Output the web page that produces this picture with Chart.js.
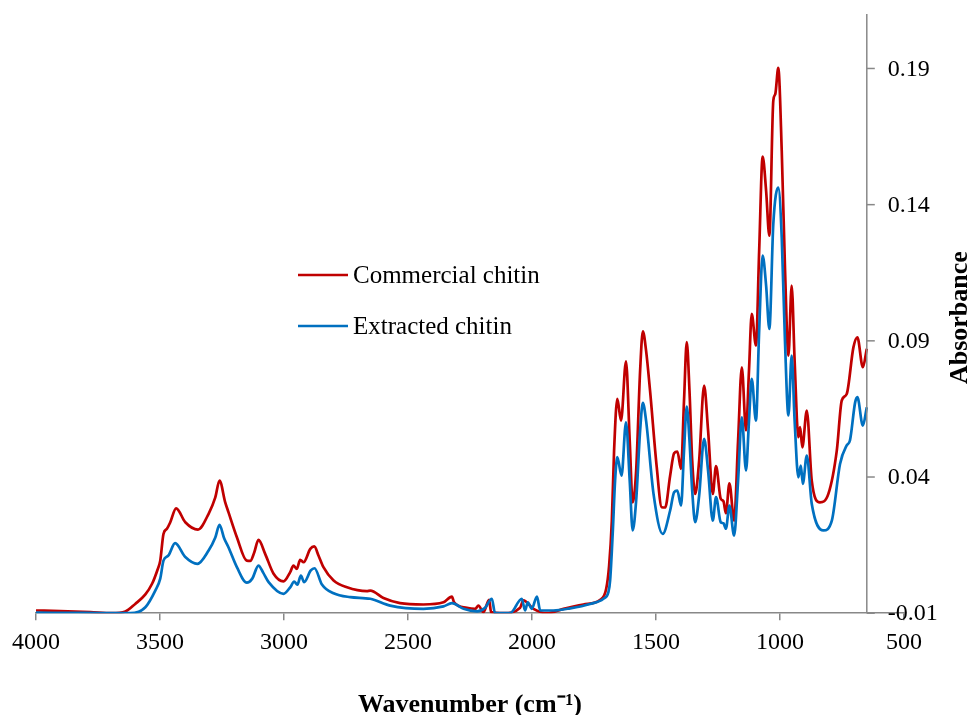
<!DOCTYPE html>
<html>
<head>
<meta charset="utf-8">
<script src="https://cdn.jsdelivr.net/npm/chart.js@4.4.1/dist/chart.umd.min.js"></script>
<style>
  body { margin: 0; background: #fff; }
  canvas { display: block; }
</style>
</head>
<body>
<canvas id="ftir-chart" width="973" height="715"></canvas>
<script>
const seriesNames = ["Commercial chitin", "Extracted chitin"];

// FTIR spectra: wavenumber (cm-1) and absorbance
const commercialWn = [4000, 3902, 3781, 3694, 3640, 3600, 3559, 3532, 3511, 3499, 3486, 3472, 3459, 3435, 3398, 3347, 3304, 3277, 3260, 3237, 3224, 3190, 3150, 3136, 3120, 3103, 3076, 3042, 3002, 2975, 2962, 2948, 2935, 2921, 2894, 2878, 2861, 2841, 2800, 2746, 2666, 2652, 2599, 2532, 2438, 2357, 2323, 2314, 2263, 2229, 2216, 2196, 2173, 2165, 2115, 2048, 2035, 1994, 1940, 1873, 1793, 1725, 1701, 1689, 1678, 1669, 1656, 1641, 1621, 1606, 1594, 1580, 1564, 1553, 1540, 1524, 1497, 1477, 1463, 1443, 1427, 1414, 1399, 1387, 1376, 1365, 1354, 1342, 1326, 1306, 1290, 1271, 1258, 1239, 1228, 1218, 1204, 1185, 1169, 1154, 1137, 1125, 1114, 1097, 1084, 1070, 1056, 1043, 1027, 1019, 1007, 993, 980, 966, 953, 941, 926, 919, 910, 892, 872, 839, 805, 771, 751, 731, 704, 688, 666, 650];
const commercialAbs = [-0.0090, -0.0092, -0.0096, -0.0100, -0.0094, -0.0066, -0.0031, 0.0008, 0.0057, 0.0093, 0.0191, 0.0210, 0.0233, 0.0285, 0.0234, 0.0207, 0.0265, 0.0325, 0.0387, 0.0307, 0.0271, 0.0179, 0.0093, 0.0092, 0.0123, 0.0169, 0.0118, 0.0045, 0.0017, 0.0051, 0.0075, 0.0063, 0.0096, 0.0087, 0.0136, 0.0145, 0.0112, 0.0069, 0.0020, -0.0005, -0.0019, -0.0017, -0.0044, -0.0063, -0.0068, -0.0060, -0.0039, -0.0060, -0.0080, -0.0084, -0.0072, -0.0096, -0.0051, -0.0096, -0.0100, -0.0080, -0.0053, -0.0084, -0.0100, -0.0084, -0.0068, -0.0051, -0.0011, 0.0075, 0.0240, 0.0497, 0.0687, 0.0607, 0.0825, 0.0534, 0.0307, 0.0424, 0.0791, 0.0935, 0.0864, 0.0717, 0.0436, 0.0289, 0.0288, 0.0405, 0.0487, 0.0493, 0.0430, 0.0681, 0.0895, 0.0717, 0.0460, 0.0338, 0.0460, 0.0736, 0.0571, 0.0338, 0.0440, 0.0320, 0.0311, 0.0267, 0.0377, 0.0240, 0.0534, 0.0803, 0.0571, 0.0791, 0.0999, 0.0883, 0.1231, 0.1576, 0.1451, 0.1286, 0.1782, 0.1806, 0.1902, 0.1598, 0.1170, 0.0846, 0.1103, 0.0827, 0.0546, 0.0583, 0.0509, 0.0644, 0.0387, 0.0307, 0.0338, 0.0497, 0.0681, 0.0705, 0.0876, 0.0913, 0.0803, 0.0871];

const extractedWn = [4000, 3800, 3620, 3559, 3519, 3499, 3486, 3466, 3439, 3398, 3349, 3304, 3277, 3260, 3241, 3224, 3190, 3150, 3128, 3103, 3084, 3062, 3002, 2975, 2959, 2946, 2932, 2919, 2892, 2877, 2847, 2800, 2733, 2652, 2572, 2438, 2357, 2323, 2276, 2222, 2189, 2162, 2149, 2088, 2041, 2028, 2017, 2001, 1980, 1967, 1914, 1846, 1766, 1712, 1692, 1685, 1674, 1665, 1656, 1639, 1621, 1606, 1594, 1580, 1564, 1553, 1540, 1510, 1473, 1443, 1427, 1414, 1399, 1387, 1376, 1365, 1354, 1342, 1326, 1306, 1290, 1271, 1258, 1239, 1228, 1218, 1204, 1185, 1169, 1154, 1137, 1125, 1114, 1097, 1084, 1070, 1056, 1043, 1027, 1007, 993, 980, 966, 953, 941, 926, 916, 908, 892, 872, 825, 791, 758, 731, 718, 697, 688, 666, 650];
const extractedAbs = [-0.0098, -0.0099, -0.0100, -0.0078, -0.0017, 0.0027, 0.0093, 0.0112, 0.0157, 0.0106, 0.0081, 0.0130, 0.0178, 0.0224, 0.0174, 0.0142, 0.0069, 0.0012, 0.0027, 0.0075, 0.0049, 0.0014, -0.0029, -0.0005, 0.0016, 0.0005, 0.0038, 0.0014, 0.0057, 0.0065, 0.0005, -0.0027, -0.0041, -0.0047, -0.0072, -0.0084, -0.0075, -0.0063, -0.0084, -0.0093, -0.0080, -0.0047, -0.0100, -0.0100, -0.0047, -0.0090, -0.0060, -0.0084, -0.0039, -0.0090, -0.0090, -0.0082, -0.0066, -0.0047, -0.0023, 0.0020, 0.0204, 0.0387, 0.0473, 0.0405, 0.0601, 0.0387, 0.0204, 0.0314, 0.0571, 0.0672, 0.0607, 0.0338, 0.0191, 0.0277, 0.0344, 0.0350, 0.0295, 0.0497, 0.0659, 0.0534, 0.0350, 0.0234, 0.0332, 0.0540, 0.0424, 0.0240, 0.0326, 0.0234, 0.0230, 0.0210, 0.0295, 0.0185, 0.0387, 0.0619, 0.0424, 0.0607, 0.0760, 0.0607, 0.0938, 0.1213, 0.1103, 0.0944, 0.1329, 0.1463, 0.1280, 0.0901, 0.0626, 0.0846, 0.0607, 0.0399, 0.0442, 0.0375, 0.0479, 0.0302, 0.0204, 0.0240, 0.0448, 0.0516, 0.0534, 0.0674, 0.0693, 0.0589, 0.0656];

const xTicks = [4000, 3500, 3000, 2500, 2000, 1500, 1000, 500];
const yTicks = [-0.01, 0.04, 0.09, 0.14, 0.19];
const yAxisAt = 650; // vertical axis crosses at the last recorded wavenumber

const toPoints = (xs, ys) => xs.map((x, i) => ({ x: x, y: ys[i] }));

Chart.defaults.font.family = "'Liberation Serif', 'Times New Roman', serif";
Chart.defaults.color = "#000";

const axisGray = "#888888";

// absorbance axis sits inside the wavenumber range, so it is drawn by hand
const absorbanceAxis = {
  id: "absorbanceAxis",
  afterDraw(chart) {
    const { ctx, chartArea, scales: { x, y } } = chart;
    const ax = x.getPixelForValue(yAxisAt);
    ctx.save();
    ctx.strokeStyle = axisGray;
    ctx.lineWidth = 1.5;
    ctx.beginPath();
    ctx.moveTo(ax, chartArea.top);
    ctx.lineTo(ax, chartArea.bottom);
    ctx.stroke();
    ctx.font = "24px 'Liberation Serif'";
    ctx.fillStyle = "#000";
    ctx.textAlign = "left";
    ctx.textBaseline = "middle";
    yTicks.forEach(v => {
      const py = y.getPixelForValue(v);
      ctx.beginPath();
      ctx.moveTo(ax, py);
      ctx.lineTo(ax + 8, py);
      ctx.stroke();
      ctx.fillText(v.toFixed(2), ax + 21, py + 1);
    });
    ctx.font = "bold 26px 'Liberation Serif'";
    ctx.translate(chart.width - 13, (chartArea.top + chartArea.bottom) / 2 + 4);
    ctx.rotate(-Math.PI / 2);
    ctx.textAlign = "center";
    ctx.fillText("Absorbance", 0, 0);
    ctx.restore();
  }
};

// legend floating in the empty middle of the plot
const floatingLegend = {
  id: "floatingLegend",
  afterDraw(chart) {
    const { ctx } = chart;
    ctx.save();
    ctx.font = "25px 'Liberation Serif'";
    ctx.textAlign = "left";
    ctx.textBaseline = "middle";
    chart.data.datasets.forEach((ds, i) => {
      const ly = 275 + i * 51;
      ctx.strokeStyle = ds.borderColor;
      ctx.lineWidth = 2.5;
      ctx.beginPath();
      ctx.moveTo(298, ly);
      ctx.lineTo(348, ly);
      ctx.stroke();
      ctx.fillStyle = "#000";
      ctx.fillText(ds.label, 353, ly + 1);
    });
    ctx.restore();
  }
};

new Chart(document.getElementById("ftir-chart"), {
  type: "line",
  data: {
    datasets: [
      {
        label: seriesNames[0],
        data: toPoints(commercialWn, commercialAbs),
        borderColor: "#c00000",
        backgroundColor: "#c00000",
        borderWidth: 2.7,
        pointRadius: 0,
        cubicInterpolationMode: "monotone",
        order: 1
      },
      {
        label: seriesNames[1],
        data: toPoints(extractedWn, extractedAbs),
        borderColor: "#0070c0",
        backgroundColor: "#0070c0",
        borderWidth: 2.7,
        pointRadius: 0,
        cubicInterpolationMode: "monotone",
        order: 0
      }
    ]
  },
  options: {
    responsive: false,
    animation: false,
    devicePixelRatio: 1,
    layout: { padding: { left: 36, right: 69, top: 14, bottom: 0 } },
    plugins: {
      legend: { display: false },
      tooltip: { enabled: false }
    },
    scales: {
      x: {
        type: "linear",
        reverse: true,
        min: 500,
        max: 4000,
        afterBuildTicks: scale => { scale.ticks = xTicks.map(v => ({ value: v })); },
        grid: { drawOnChartArea: false, drawTicks: true, tickLength: 7, color: axisGray, lineWidth: 1.5 },
        border: { color: axisGray, width: 1.5 },
        ticks: {
          font: { size: 24 },
          padding: 8,
          maxRotation: 0,
          autoSkip: false,
          callback: value => String(value)
        },
        title: {
          display: true,
          text: "Wavenumber (cm\u207B\u00B9)",
          font: { size: 26, weight: "bold", lineHeight: 1.0 },
          padding: { top: 27, bottom: -3 }
        }
      },
      y: {
        display: false,
        min: -0.01,
        max: 0.21
      }
    }
  },
  plugins: [absorbanceAxis, floatingLegend]
});
</script>
</body>
</html>
